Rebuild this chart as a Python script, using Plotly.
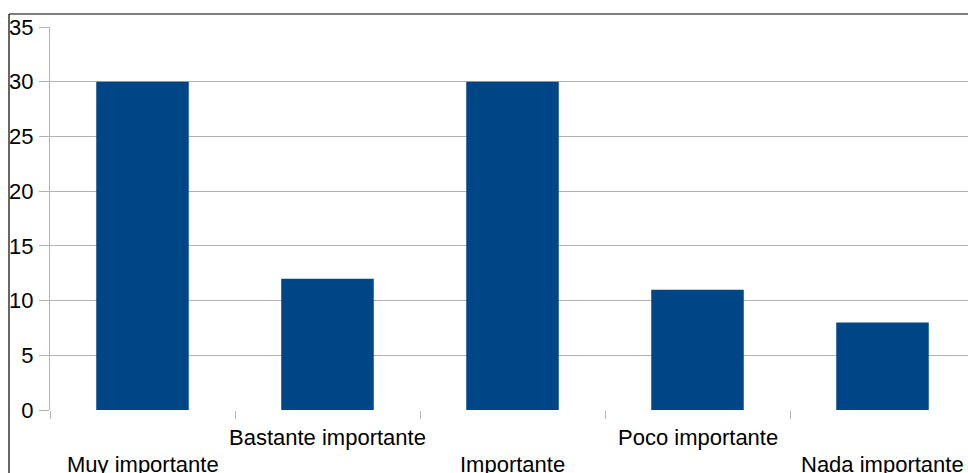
import plotly.graph_objects as go

categories = ["Muy importante", "Bastante importante", "Importante", "Poco importante", "Nada importante"]
values = [30, 12, 30, 11, 8]
y_ticks = [0, 5, 10, 15, 20, 25, 30, 35]

W, H = 968, 473
L, R, T, B = 50, 0, 27, 63
pw = W - L - R
ph = H - T - B
FONT = "Liberation Sans, Arial"
FS = 22

fig = go.Figure()
fig.add_trace(go.Bar(x=categories, y=values, marker_color="#004586", width=0.5,
                     marker_line_width=0))

# staggered category labels
label_rows = [-(464 - 410) / ph, -(438 - 410) / ph]
annotations = []
for i, c in enumerate(categories):
    annotations.append(dict(x=c, xref="x", y=label_rows[i % 2], yref="paper",
                            text=c, showarrow=False, xanchor="center", yanchor="middle",
                            font=dict(family=FONT, size=FS, color="black")))

x_left_px = 9
y_top_px = 14
xl = (x_left_px - L) / pw
yt = 1 + (T - y_top_px) / ph
shapes = [
    dict(type="line", xref="paper", yref="paper", x0=xl, x1=1.05, y0=yt, y1=yt,
         line=dict(color="black", width=1.2)),
    dict(type="line", xref="paper", yref="paper", x0=xl, x1=xl, y0=yt, y1=-0.3,
         line=dict(color="black", width=1.2)),
]

# visible range ends at right window edge (plot extends beyond)
cat_px = 185
x_max = -0.5 + pw / cat_px

fig.update_layout(
    width=W, height=H,
    margin=dict(l=L, r=R, t=T, b=B, pad=0),
    paper_bgcolor="white", plot_bgcolor="white",
    showlegend=False,
    bargap=0.5,
    annotations=annotations,
    shapes=shapes,
    font=dict(family=FONT, size=FS, color="black"),
    xaxis=dict(type="category", range=[-0.5, x_max], tickson="boundaries",
               ticks="outside", ticklen=8, tickcolor="#b3b3b3", tickwidth=1,
               showticklabels=False, showgrid=False, zeroline=False,
               showline=False),
    yaxis=dict(range=[0, 35], tickvals=y_ticks, ticks="outside", ticklen=10,
               tickcolor="#b3b3b3", tickwidth=1, showgrid=True, gridcolor="#b3b3b3",
               gridwidth=1, zeroline=False, showline=True, linecolor="#b3b3b3",
               linewidth=1, tickfont=dict(family=FONT, size=FS, color="black"),
               ticklabelstandoff=1),
)

fig.write_html("out.html", config={"displayModeBar": False},
               post_script="document.body.style.margin='0';document.body.style.overflow='hidden';")
